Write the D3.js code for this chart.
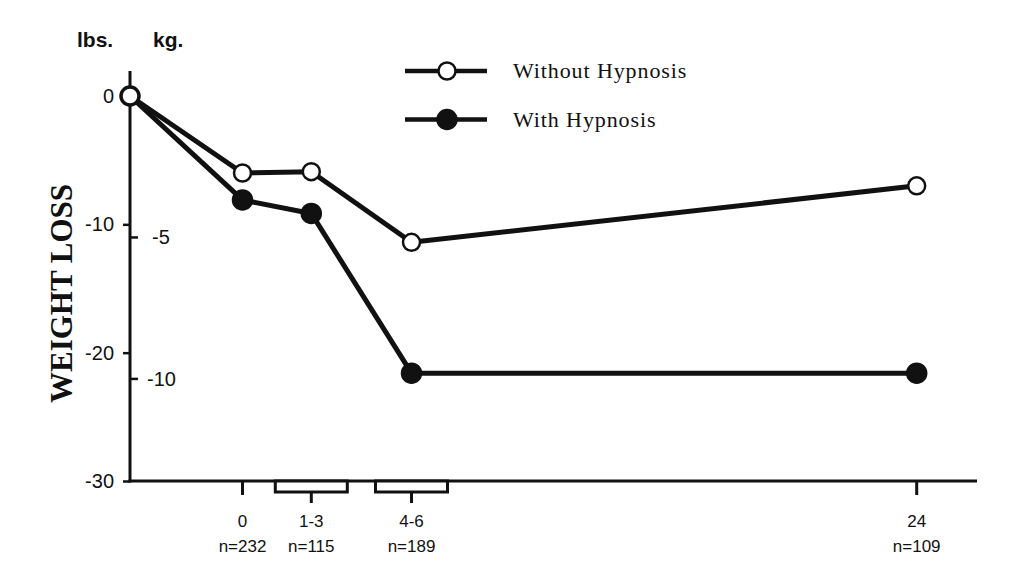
<!DOCTYPE html>
<html>
<head>
<meta charset="utf-8">
<script src="https://cdn.jsdelivr.net/npm/d3@7"></script>
<style>
  html, body { margin: 0; padding: 0; background: #fff; }
  svg { display: block; }
</style>
</head>
<body>
<svg id="chart" width="1024" height="579"></svg>
<script>
// ---- data ----
const timeLabels = ["0", "1-3", "4-6", "24"];           // months after treatment
const sampleSizes = ["n=232", "n=115", "n=189", "n=109"];
const timeMonths = [0, 2, 5, 24];                        // midpoints of the periods
const baselineMonth = -3;                                // pre-treatment point on the axis
const withoutHypnosis = [0, -6.0, -5.9, -11.4, -7.0];   // lbs (first = baseline)
const withHypnosis = [0, -8.1, -9.15, -21.6, -21.6];     // lbs
const lbsTicks = [0, -10, -20, -30];
const kgTicks = [-5, -10];
const seriesNames = ["Without Hypnosis", "With Hypnosis"];
const LBS_PER_KG = 2.2046;

// ---- layout ----
const svg = d3.select("#chart");
const ink = "#111";
const axisX = 130, axisY = 481;

const y = d3.scaleLinear().domain([0, -30]).range([96, axisY]);
// the printed time axis is not proportional: polylinear scale through the period positions
const x = d3.scaleLinear()
  .domain([baselineMonth, 0, 2, 5, 24, 26.6])
  .range([axisX, 242.5, 311.3, 411.5, 916.7, 977]);

const xs = [baselineMonth].concat(timeMonths);

// axes lines
svg.append("line").attr("x1", axisX).attr("x2", axisX).attr("y1", 71).attr("y2", axisY + 1.5)
  .attr("stroke", ink).attr("stroke-width", 3);
svg.append("line").attr("x1", axisX - 1.5).attr("x2", x(26.6)).attr("y1", axisY).attr("y2", axisY)
  .attr("stroke", ink).attr("stroke-width", 3);

// lbs ticks (left)
const lbsG = svg.append("g").attr("transform", `translate(${axisX},0)`)
  .call(d3.axisLeft(y).tickValues(lbsTicks).tickSize(7).tickPadding(9).tickFormat(d => String(d)));
lbsG.select(".domain").remove();
lbsG.selectAll(".tick line").attr("stroke", ink).attr("stroke-width", 2.5);
lbsG.selectAll(".tick text").attr("fill", ink)
  .style("font-family", "'Liberation Sans', Arial, sans-serif").style("font-size", "20px");

// kg ticks (right)
const kgG = svg.append("g").attr("transform", `translate(${axisX},0)`);
kgTicks.forEach(k => {
  const yy = y(k * LBS_PER_KG);
  kgG.append("line").attr("x1", 0).attr("x2", 8).attr("y1", yy).attr("y2", yy)
    .attr("stroke", ink).attr("stroke-width", 2.5);
  kgG.append("text").attr("x", k <= -10 ? 17 : 22).attr("y", yy).attr("dy", "0.35em")
    .attr("fill", ink)
    .style("font-family", "'Liberation Sans', Arial, sans-serif").style("font-size", "20px")
    .text(String(k));
});

// unit headers
svg.append("text").attr("x", 77).attr("y", 47).text("lbs.")
  .attr("fill", ink).style("font-family", "'Liberation Sans', Arial, sans-serif")
  .style("font-size", "21px").style("font-weight", "bold");
svg.append("text").attr("x", 153).attr("y", 47).text("kg.")
  .attr("fill", ink).style("font-family", "'Liberation Sans', Arial, sans-serif")
  .style("font-size", "21px").style("font-weight", "bold");

// y title
svg.append("text")
  .attr("transform", `translate(72,${(185 + 402) / 2}) rotate(-90)`)
  .attr("text-anchor", "middle")
  .attr("fill", ink)
  .style("font-family", "'Liberation Serif', 'Times New Roman', serif")
  .style("font-size", "31px").style("font-weight", "bold")
  .text("WEIGHT LOSS");

// x ticks, period boxes and labels
const boxHalf = 36;
timeMonths.forEach((m, i) => {
  const cx = x(m);
  const isRange = timeLabels[i].includes("-");
  let tickTop = axisY;
  if (isRange) {
    const boxH = 11;
    svg.append("rect").attr("x", cx - boxHalf).attr("y", axisY).attr("width", boxHalf * 2).attr("height", boxH)
      .attr("fill", "#fff").attr("stroke", ink).attr("stroke-width", 3);
    tickTop = axisY + boxH;
  }
  svg.append("line").attr("x1", cx).attr("x2", cx).attr("y1", tickTop).attr("y2", tickTop + (isRange ? 11 : 14))
    .attr("stroke", ink).attr("stroke-width", 3);
  svg.append("text").attr("x", cx).attr("y", 527).attr("text-anchor", "middle")
    .attr("fill", ink).style("font-family", "'Liberation Sans', Arial, sans-serif").style("font-size", "17px")
    .text(timeLabels[i]);
  svg.append("text").attr("x", cx).attr("y", 552).attr("text-anchor", "middle")
    .attr("fill", ink).style("font-family", "'Liberation Sans', Arial, sans-serif").style("font-size", "17px")
    .text(sampleSizes[i]);
});

// series
const line = d3.line().x(d => x(d[0])).y(d => y(d[1]));
const series = [
  { name: seriesNames[0], values: withoutHypnosis, fill: "#fff", r: 8.5 },
  { name: seriesNames[1], values: withHypnosis, fill: ink, r: 9.5 }
];
// draw filled series first, then open on top
[series[1], series[0]].forEach(s => {
  const pts = s.values.map((v, i) => [xs[i], v]);
  svg.append("path").attr("d", line(pts)).attr("fill", "none")
    .attr("stroke", ink).attr("stroke-width", 5).attr("stroke-linejoin", "round");
});
[series[1], series[0]].forEach(s => {
  const pts = s.values.map((v, i) => [xs[i], v]);
  svg.selectAll(null).data(pts).enter().append("circle")
    .attr("cx", d => x(d[0])).attr("cy", d => y(d[1]))
    .attr("r", s.r).attr("fill", s.fill).attr("stroke", ink).attr("stroke-width", 2.5);
});

// legend
series.forEach((s, i) => {
  const ly = 71 + i * 48.5;
  svg.append("line").attr("x1", 405).attr("x2", 487).attr("y1", ly).attr("y2", ly)
    .attr("stroke", ink).attr("stroke-width", 4.5);
  svg.append("circle").attr("cx", 447).attr("cy", ly).attr("r", s.r)
    .attr("fill", s.fill).attr("stroke", ink).attr("stroke-width", 2.5);
  svg.append("text").attr("x", 513).attr("y", ly + 7)
    .attr("fill", ink)
    .style("font-family", "'Liberation Serif', 'Times New Roman', serif")
    .style("font-size", "22px").style("letter-spacing", "0.9px")
    .text(s.name);
});
</script>
</body>
</html>
